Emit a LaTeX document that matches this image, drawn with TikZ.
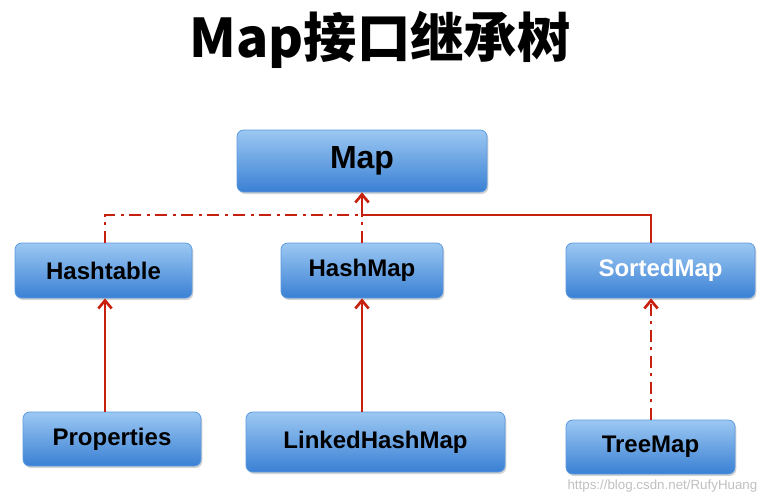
\documentclass[tikz,border=0pt]{standalone}
\usepackage{fontspec}
\setmainfont{Liberation Sans}
\newfontfamily\cjk{Noto Sans CJK SC}
\usetikzlibrary{arrows.meta,shadows}
\definecolor{redl}{HTML}{C8200E}
\definecolor{btop}{HTML}{9CC8F2}
\definecolor{bbot}{HTML}{3A80D4}
\definecolor{bdr}{HTML}{5C9AE0}
\tikzset{
 box/.style={rounded corners=5pt,top color=btop,bottom color=bbot,
   draw=bdr,line width=0.6pt,drop shadow={opacity=0.35,shadow xshift=1pt,shadow yshift=-1.5pt},
   font=\bfseries\fontsize{18}{20}\selectfont,inner sep=0pt},
 link/.style={redl,line width=2.2pt},
 dd/.style={dash pattern=on 9pt off 4pt on 2.5pt off 4pt},
 arr/.style={-{Straight Barb[length=6pt,width=10pt,line width=2pt]}}
}
\begin{document}
\begin{tikzpicture}[x=0.75pt,y=-0.75pt]
\useasboundingbox (0,0) rectangle (768,500);
\node (title) at (380,40) {\cjk\bfseries\fontsize{40}{44}\selectfont Map接口继承树};
\node[box,minimum width=187.5pt,minimum height=46.5pt] (map) at (362,161) {\fontsize{24}{26}\selectfont Map};
\node[box,minimum width=132.75pt,minimum height=41.25pt] (ht) at (103.5,270.5) {Hashtable};
\node[box,minimum width=121.5pt,minimum height=41.25pt] (hm) at (362,270.5) {HashMap};
\node[box,minimum width=141.75pt,minimum height=41.25pt,text=white] (sm) at (660.5,270.5) {SortedMap};
\node[box,minimum width=133.5pt,minimum height=40.5pt] (pr) at (112,439) {Properties};
\node[box,minimum width=194.25pt,minimum height=45pt] (lhm) at (375.5,442) {LinkedHashMap};
\node[box,minimum width=126.75pt,minimum height=40.5pt] (tm) at (650.5,447) {TreeMap};
\coordinate (j) at (362,215);
\draw[link,dd] (ht.north -| 105,0) |- (j);
\draw[link,dd] (hm.north) -- (j);
\draw[link] (sm.north -| 651,0) |- (j);
\draw[link,arr] (j) -- (map.south);
\draw[link,arr] (pr.north -| 105,0) -- (ht.south -| 105,0);
\draw[link,arr] (lhm.north -| 362,0) -- (hm.south);
\draw[link,dd,arr] (tm.north -| 651,0) -- (sm.south -| 651,0);
\node[text=black!25,font=\fontsize{10}{12}\selectfont,anchor=south east] (wm) at (762,497) {https://blog.csdn.net/RufyHuang};
\end{tikzpicture}
\end{document}
